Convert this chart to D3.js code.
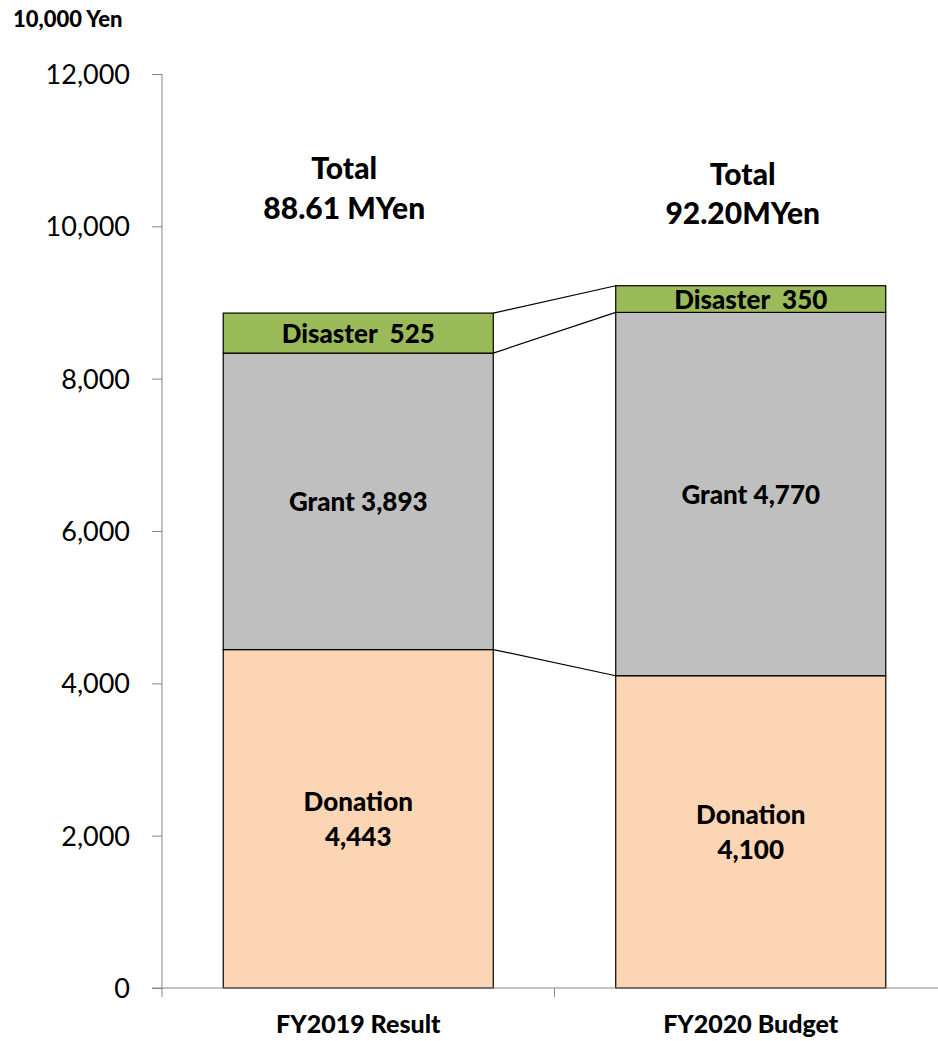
<!DOCTYPE html>
<html><head><meta charset="utf-8">
<script src="https://cdn.jsdelivr.net/npm/d3@7"></script>
<style>body{margin:0;background:#fff}svg{display:block}text{font-family:Lato,"Open Sans",sans-serif}</style>
</head><body><div id="chart"></div>
<script>
const categories = ["FY2019 Result", "FY2020 Budget"];
const seriesNames = ["Donation", "Grant", "Disaster"];
const donation = [4443, 4100];
const grant = [3893, 4770];
const disaster = [525, 350];
const totalLabels = ["88.61 MYen", "92.20MYen"];
const yTicks = [0, 2000, 4000, 6000, 8000, 10000, 12000];
const colors = ["#FCD5B4", "#BFBFBF", "#9BBB59"];

const W = 938, H = 1041;
const BOLD = 900;
const svg = d3.select("#chart").append("svg").attr("width", W).attr("height", H);
const x = d3.scaleBand().domain(categories).range([162, 947]).paddingInner(0.312).paddingOuter(0.156);
const y = d3.scaleLinear().domain([0, 12000]).range([988, 74]);

const rows = categories.map((c, i) => ({cat: c, Donation: donation[i], Grant: grant[i], Disaster: disaster[i]}));
const stack = d3.stack().keys(seriesNames)(rows);

// connector lines
const g = svg.append("g");
stack.forEach(layer => {
  const a = layer[0], b = layer[1];
  g.append("line")
    .attr("x1", x(categories[0]) + x.bandwidth()).attr("y1", y(a[1]))
    .attr("x2", x(categories[1])).attr("y2", y(b[1]))
    .attr("stroke", "#000").attr("stroke-width", 1.2);
});

// bars
stack.forEach((layer, si) => {
  g.selectAll(null).data(layer).enter().append("rect")
    .attr("x", (d, i) => x(categories[i]))
    .attr("y", d => y(d[1]))
    .attr("width", x.bandwidth())
    .attr("height", d => y(d[0]) - y(d[1]))
    .attr("fill", colors[si]).attr("stroke", "#000").attr("stroke-width", 1.2);
});

// axes
const yAxis = svg.append("g").attr("transform", "translate(162,0)")
  .call(d3.axisLeft(y).tickValues(yTicks).tickSize(10).tickPadding(22).tickFormat(d3.format(",")));
yAxis.select(".domain").attr("stroke", "#868686").attr("d", "M0,74V988");
yAxis.selectAll(".tick line").attr("stroke", "#868686");
yAxis.selectAll(".tick text").attr("font-size", 27).attr("fill", "#000").attr("dy", "0.35em");

const xAxis = svg.append("g").attr("transform", "translate(0,988)");
xAxis.append("line").attr("x1", 152).attr("x2", 947).attr("stroke", "#868686");
const bounds = [162, x(categories[1]) - x.step() * x.paddingInner() / 2, 947];
bounds.forEach(b => xAxis.append("line").attr("x1", b).attr("x2", b).attr("y1", 0).attr("y2", 9).attr("stroke", "#868686"));
categories.forEach(c => xAxis.append("text").attr("x", x(c) + x.bandwidth() / 2).attr("y", 36)
  .attr("dy", "0.35em").attr("text-anchor", "middle").attr("font-size", 25).attr("font-weight", BOLD).text(c));

// unit label
svg.append("text").attr("x", 13).attr("y", 27).attr("font-size", 22).attr("font-weight", BOLD).text("10,000 Yen");

// segment labels
const fmt = d3.format(",");
const lab = svg.append("g").attr("font-size", 26).attr("font-weight", BOLD).attr("text-anchor", "middle");
categories.forEach((c, i) => {
  const cx = x(c) + x.bandwidth() / 2;
  const dm = (y(0) + y(donation[i])) / 2;
  lab.append("text").attr("x", cx).attr("y", dm - 17).attr("dy", "0.35em").text("Donation");
  lab.append("text").attr("x", cx).attr("y", dm + 18).attr("dy", "0.35em").text(fmt(donation[i]));
  const gm = (y(donation[i]) + y(donation[i] + grant[i])) / 2;
  lab.append("text").attr("x", cx).attr("y", gm + 1).attr("dy", "0.35em").text("Grant " + fmt(grant[i]));
  const sm = (y(donation[i] + grant[i]) + y(donation[i] + grant[i] + disaster[i])) / 2;
  lab.append("text").attr("x", cx).attr("y", sm + 1).attr("dy", "0.35em").attr("xml:space", "preserve").text("Disaster  " + fmt(disaster[i]));
});

// total labels
const tot = svg.append("g").attr("font-size", 30).attr("font-weight", BOLD).attr("text-anchor", "middle");
const totOffsets = [[-14, 168, 208], [-8, 174, 213]];
categories.forEach((c, i) => {
  const cx = x(c) + x.bandwidth() / 2 + totOffsets[i][0];
  tot.append("text").attr("x", cx).attr("y", totOffsets[i][1]).attr("dy", "0.35em").text("Total");
  tot.append("text").attr("x", cx).attr("y", totOffsets[i][2]).attr("dy", "0.35em").text(totalLabels[i]);
});
</script></body></html>
